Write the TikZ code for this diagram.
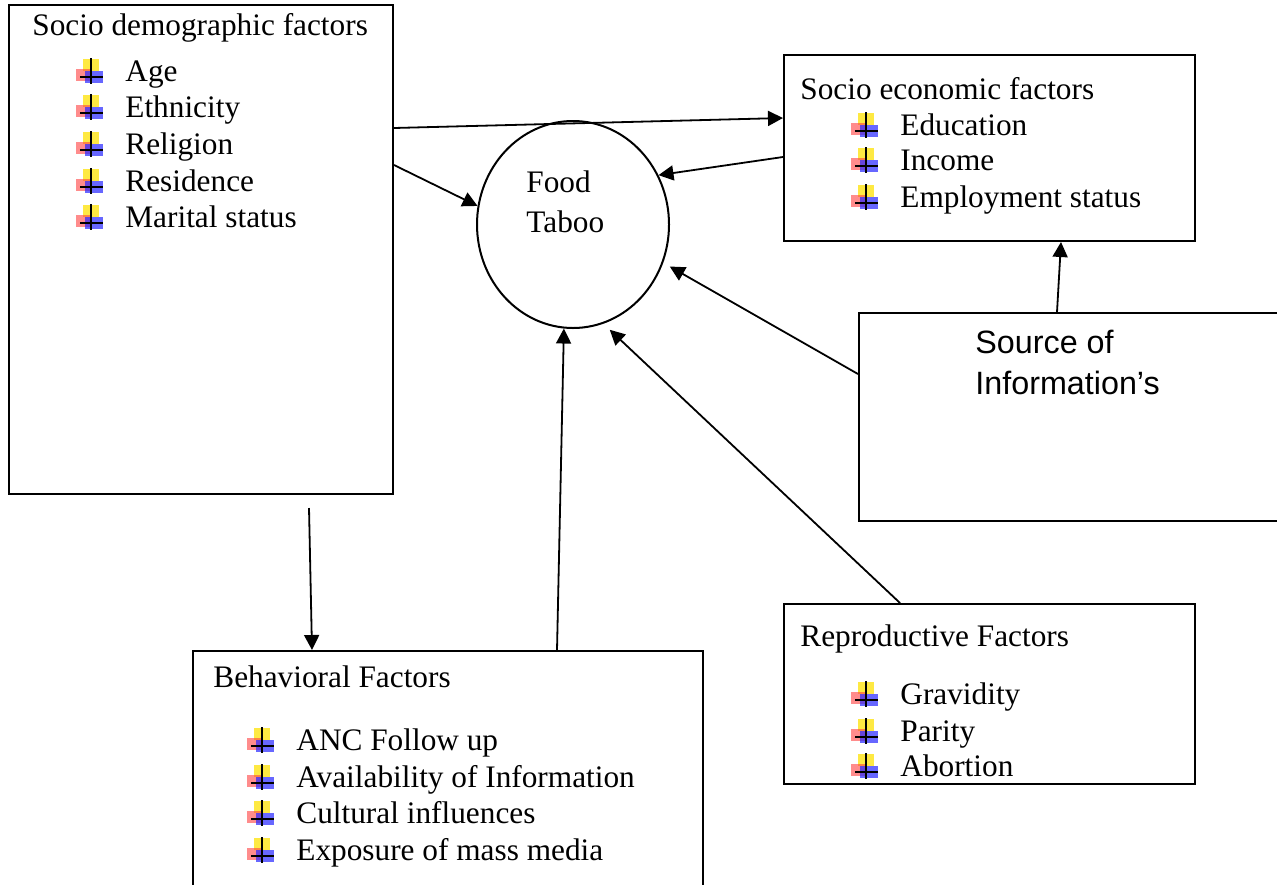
\documentclass[tikz,border=0pt]{standalone}
\usepackage{fontspec}
\setmainfont{Liberation Serif}
\newfontfamily\arialf{Liberation Sans}
\usetikzlibrary{arrows.meta,calc,shapes.geometric}
\begin{document}
\begin{tikzpicture}[x=0.5pt,y=-0.5pt,
  box/.style={draw,line width=1pt,rectangle,anchor=north west,inner sep=0pt},
  lbl/.style={anchor=base west,inner sep=0pt,font=\fontsize{15.65}{18.5}\selectfont},
  srct/.style={anchor=base west,inner sep=0pt,font=\arialf\fontsize{16.15}{20}\selectfont},
  arr/.style={line width=0.9pt,-{Triangle[length=7.5pt,width=7.5pt]}},
  bul/.pic={
    \fill[yellow!85!orange,opacity=.75] (-42,-22) rectangle (-26,-10);
    \fill[red!75,opacity=.6] (-49,-12) rectangle (-35,0);
    \fill[blue!85,opacity=.7] (-40,-10) rectangle (-22,2);
    \draw[line width=1.1pt] (-34,-23) -- (-34,3);
    \draw[line width=1.1pt] (-45,-4) -- (-22,-4);
  }]
\useasboundingbox (0,0) rectangle (1277,884);
\clip (0,0) rectangle (1277,884);

% boxes
\node[box,minimum width=192pt,minimum height=244.5pt] (sd) at (8,4) {};
\node[box,minimum width=205.5pt,minimum height=93pt] (se) at (783,54) {};
\node[box,minimum width=230pt,minimum height=104pt] (src) at (858,312) {};
\node[box,minimum width=205.5pt,minimum height=90pt] (rp) at (783,603) {};
\node[box,minimum width=255pt,minimum height=130pt] (bh) at (192,650) {};
\node[draw,ellipse,line width=1pt,minimum width=96pt,minimum height=103.5pt,inner sep=0pt] (ft) at (573,224.5) {};

% titles
\node[lbl] (sdt) at (32,35) {Socio demographic factors};
\node[lbl] (set) at (800,99) {Socio economic factors};
\node[lbl] (rpt) at (800,646) {Reproductive Factors};
\node[lbl] (bht) at (213,687) {Behavioral Factors};
\node[lbl] (ft1) at (526,192) {Food};
\node[lbl] (ft2) at (526,232) {Taboo};
\node[srct] (src1) at (975,353) {Source of};
\node[srct] (src2) at (975,394) {Information’s};

% lists
\foreach \t/\y in {Age/81,Ethnicity/117,Religion/154,Residence/191,Marital status/227}{
  \node[lbl] (sd-\y) at (125,\y) {\t};
  \pic at (125,\y) {bul};
}
\foreach \t/\y in {Education/135,Income/170,Employment status/207}{
  \node[lbl] (se-\y) at (900,\y) {\t};
  \pic at (900,\y) {bul};
}
\foreach \t/\y in {Gravidity/704,Parity/741,Abortion/776}{
  \node[lbl] (rp-\y) at (900,\y) {\t};
  \pic at (900,\y) {bul};
}
\foreach \t/\y in {ANC Follow up/750,Availability of Information/787,Cultural influences/823,Exposure of mass media/860}{
  \node[lbl] (bh-\y) at (296,\y) {\t};
  \pic at (296,\y) {bul};
}

% connectors
\coordinate (s8) at (309,508);
\draw[arr] (sd.east |- 0,128) -- (se.west |- 0,118);
\draw[arr] (sd.east |- 0,165) -- (ft.169);
\draw[arr] (se.west |- 0,157) -- (ft.30);
\draw[arr,shorten >=3.75pt] (src.west |- 0,374) -- (ft.-23);
\draw[arr] (1057,0 |- src.north) -- (1061,0 |- se.south);
\draw[arr,shorten >=4.4pt] (900,0 |- rp.north) -- (ft.-73.3);
\draw[arr] (557,0 |- bh.north) -- (ft.-95.5);
\draw[arr] (s8) -- (312,0 |- bh.north);
\end{tikzpicture}
\end{document}
